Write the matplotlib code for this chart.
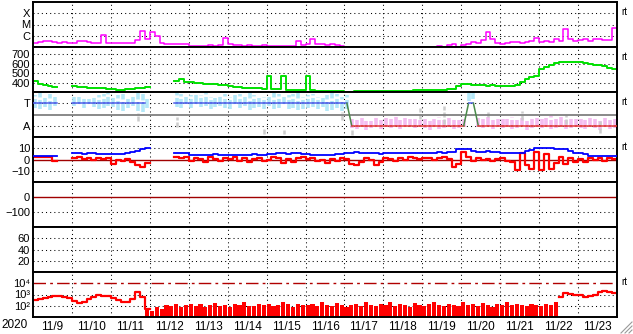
import numpy as np
import matplotlib
matplotlib.use("Agg")
import matplotlib.pyplot as plt
from matplotlib.lines import Line2D

plt.rcParams['font.family'] = ['Liberation Sans', 'DejaVu Sans']

nan = np.nan
BIN = 0.125  # 3-hour bins, x axis in days from 2020-11-09 00:00

day_labels = ["11/9", "11/10", "11/11", "11/12", "11/13", "11/14", "11/15", "11/16",
              "11/17", "11/18", "11/19", "11/20", "11/21", "11/22", "11/23"]
year_label = "2020"

# X-ray flux, log10 W/m^2 (3-hour bins)
xray_log = [
    -6.6, -6.55, -6.5, -6.5, -6.55, -6.6, -6.55, -6.6,
    -6.6, -6.5, -6.5, -6.55, -6.6, -6.65, -5.9, -6.6,
    -6.65, -6.6, -6.6, -6.65, -6.6, -6.4, -5.6, -6.3,
    -5.7, -6.0, -6.6, -6.7, -6.7, -6.75, -6.7, -6.75,
    -6.9, -6.9, -6.9, -6.9, -6.85, -6.9, -6.85, -6.17,
    -6.75, -6.8, -6.85, -6.9, -6.85, -6.9, -6.9, -6.85,
    -6.9, -6.9, -6.95, -6.9, -6.9, -6.9, -6.45, -6.8,
    -6.7, -6.3, -6.75, -6.7, -6.8, -6.75, -6.85, -6.9,
    -7.2, -7.2, -7.2, -7.2, -7.2, -7.2, -7.2, -7.2,
    -7.2, -7.2, -7.2, -7.2, -7.2, -7.2, -7.2, -7.2,
    -7.2, -7.2, -7.2, -6.9, -7.2, -6.8, -6.75, -7.0,
    -6.8, -6.75, -6.55, -6.6, -6.35, -5.7, -6.3, -6.6,
    -6.7, -6.6, -6.55, -6.55, -6.6, -6.55, -6.5, -6.2,
    -6.55, -6.5, -6.55, -6.3, -6.5, -5.4, -6.25, -6.5,
    -6.4, -6.3, -6.45, -6.25, -6.3, -6.35, -6.4, -5.3,
]

# Solar wind speed, km/s
speed = [
    420, 380, 370, 360, 355, nan, nan, nan,
    365, 350, 350, 345, 345, 340, 345, 335,
    330, 325, 325, 330, 335, 340, 345, 350,
    nan, nan, nan, nan, nan, 420, 435, 410,
    405, 400, 395, 390, 385, 380, 375, 370,
    360, 355, 350, 345, 345, 340, 340, 335,
    470, 330, 330, 470, 325, 325, 320, 320,
    475, 320, 315, 312, 310, 310, 308, 308,
    305, 305, 310, 312, 312, 310, 310, 308,
    308, 310, 310, 312, 315, 315, 318, 318,
    320, 322, 325, 325, 325, 328, 335, 365,
    380, 385, 375, 370, 370, 365, 370, 365,
    360, 362, 365, 375, 410, 435, 455, 475,
    545, 570, 590, 610, 620, 625, 620, 615,
    615, 605, 600, 590, 585, 575, 560, 545,
]

# IMF sector: 3 = Toward, 1 = Away
sector = [
    3, 3, 3, 3, 3, nan, nan, nan,
    3, 3, 3, 3, 3, 3, 3, 3,
    3, 3, 3, 3, 3, 3, 3, nan,
    nan, nan, nan, nan, nan, 3, 3, 3,
    3, 3, 3, 3, 3, 3, 3, 3,
    3, 3, 3, 3, 3, 3, 3, 3,
    3, 3, 3, 3, 3, 3, 3, 3,
    3, 3, 3, 3, 3, 3, 3, 3,
    3, 1, 1, 1, 1, 1, 1, 1,
    1, 1, 1, 1, 1, 1, 1, 1,
    1, 1, 1, 1, 1, 1, 1, 1,
    1, 3, 3, 1, 1, 1, 1, 1,
    1, 1, 1, 1, 1, 1, 1, 1,
    1, 1, 1, 1, 1, 1, 1, 1,
    1, 1, 1, 1, 1, 1, 1, 1,
]

# IMF angle scatter extent per bin (panel units)
phi_hi = [
    3.7, 3.9, 3.6, 3.8, 3.6, nan, nan, nan,
    3.7, 3.6, 3.5, 3.4, 3.6, 3.7, 3.8, 3.9,
    3.6, 3.7, 3.8, 3.5, 3.7, 3.9, 3.8, 3.6,
    nan, nan, nan, nan, nan, 3.9, 3.8, 3.6,
    3.7, 3.8, 3.7, 3.9, 3.6, 3.5, 3.7, 3.8,
    3.6, 3.7, 3.8, 3.6, 3.9, 3.7, 3.5, 3.6,
    3.7, 3.9, 3.8, 3.6, 3.7, 3.8, 3.9, 3.6,
    3.7, 3.8, 3.6, 3.5, 3.7, 3.9, 3.8, 3.6,
    3.7, 1.6, 1.5, 1.7, 1.6, 1.4, 1.8, 1.5,
    1.7, 1.6, 1.9, 1.5, 1.7, 1.6, 1.8, 1.5,
    1.7, 1.5, 1.6, 1.8, 1.5, 1.7, 1.6, 1.5,
    1.6, 3.9, 3.9, 1.7, 1.6, 1.8, 1.7, 1.6,
    1.7, 1.6, 1.8, 1.5, 1.7, 1.6, 1.8, 1.7,
    1.6, 1.7, 1.9, 1.6, 1.8, 1.5, 1.7, 1.6,
    1.8, 1.6, 1.7, 1.8, 1.6, 1.7, 1.5, 1.6,
]
phi_lo = [
    2.6, 2.5, 2.7, 2.4, 2.8, nan, nan, nan,
    2.8, 2.9, 2.6, 2.9, 2.7, 2.5, 2.6, 2.8,
    2.7, 2.4, 2.3, 2.6, 2.8, 2.3, 2.2, 2.6,
    nan, nan, nan, nan, nan, 2.7, 2.6, 2.9,
    2.6, 2.9, 2.7, 2.8, 2.5, 2.7, 2.8, 2.6,
    2.5, 2.9, 2.6, 2.8, 2.4, 2.6, 2.7, 2.5,
    2.8, 2.5, 2.6, 2.9, 2.5, 2.6, 2.4, 2.5,
    2.6, 2.7, 2.5, 2.7, 2.3, 2.4, 2.6, 2.3,
    2.5, 0.8, 0.7, 0.9, 0.6, 0.8, 0.9, 0.7,
    0.9, 0.8, 1.0, 0.7, 0.9, 1.0, 0.8, 0.9,
    0.8, 0.6, 0.9, 0.7, 0.8, 1.0, 0.7, 0.8,
    0.9, 3.2, 3.4, 0.9, 0.8, 1.0, 0.7, 0.9,
    0.8, 0.9, 0.7, 0.8, 1.0, 0.6, 0.8, 0.9,
    0.8, 0.9, 0.7, 0.8, 1.0, 0.7, 0.8, 0.9,
    0.8, 0.7, 0.9, 0.8, 0.6, 0.9, 0.7, 0.8,
]
# sparse grey (undetermined) points: bin index, top, bottom
grey_bins = [21, 29, 47, 51, 63, 65, 79, 84, 93, 100, 109, 116]
grey_hi = [2.1, 1.8, 0.8, 0.6, 2.2, 0.8, 2.6, 2.8, 2.3, 2.3, 2.0, 1.5]
grey_lo = [1.4, 0.9, 0.3, 0.3, 1.5, 0.2, 1.6, 1.2, 1.8, 1.5, 1.2, 0.4]

# IMF magnitude Bt and Bz, nT
bt = [
    3.5, 3.5, 3.2, 3.3, 3.5, nan, nan, nan,
    5.5, 5.5, 5.3, 5.5, 5.5, 5.3, 5.2, 5.0,
    4.8, 4.6, 4.6, 5.5, 7.0, 7.5, 9.0, 10.0,
    nan, nan, nan, nan, nan, 6.0, 6.0, 5.5,
    4.2, 4.0, 4.0, 4.2, 4.0, 4.5, 4.0, 4.0,
    4.2, 4.0, 4.3, 4.0, 4.2, 4.5, 4.0, 4.2,
    4.5, 5.0, 5.5, 5.5, 5.3, 5.5, 5.5, 5.0,
    4.5, 4.2, 4.0, 4.0, 4.2, 4.0, 4.5, 5.0,
    5.5, 6.0, 6.5, 6.2, 5.8, 5.5, 5.5, 5.3,
    5.5, 5.5, 6.0, 5.8, 5.5, 5.5, 5.8, 6.0,
    6.0, 6.0, 6.0, 6.5, 6.0, 6.5, 7.0, 9.0,
    9.5, 9.0, 8.0, 7.0, 7.0, 7.2, 7.0, 6.5,
    5.5, 5.5, 5.5, 5.8, 6.0, 7.5, 8.5, 10.5,
    10.5, 10.0, 10.0, 9.5, 9.0, 9.0, 7.5, 6.0,
    5.5, 4.5, 3.5, 3.0, 3.0, 3.0, 2.8, 3.0,
]
bz = [
    2.5, 2.0, 2.5, 2.0, -1.0, nan, nan, nan,
    1.5, 2.0, 0.5, 1.0, 0.0, 1.5, 0.5, 1.0,
    -4.0, 0.0, -1.0, 0.5, -2.0, -5.0, -6.5, -3.0,
    nan, nan, nan, nan, nan, 2.0, 1.0, 2.5,
    -1.0, 1.5, 0.5, -2.0, 2.0, 0.5, -1.5, 1.0,
    0.5, 2.0, -1.0, 1.5, -2.5, 0.5, 1.5, -1.0,
    0.0, 2.5, 1.0, -3.0, 0.5, -2.0, 1.5, 2.5,
    0.5, 1.0, -1.5, 0.0, -3.5, 0.5, -1.0, 1.5,
    0.5, -4.0, -5.0, -2.0, 1.0, 0.0, -5.0, -2.0,
    1.0, 0.5, -1.0, 1.5, 0.0, 2.0, 1.0, 0.5,
    1.0, 1.5, 0.0, 1.0, 2.0, 0.5, -6.5, -4.0,
    7.0, 2.0, -1.0, 1.0, 0.0, 0.5, -1.0, 0.5,
    1.0, -1.0, -2.0, -9.0, 6.0, -5.0, -8.0, 7.0,
    -9.0, 5.0, -8.0, -3.0, 2.0, -4.0, 1.0, -2.0,
    0.5, -2.0, 1.5, 0.0, 1.5, -1.0, 1.0, 0.5,
]

# >2 MeV electron flux, log10 (continuous part / noisy low-level part)
flux_line = [
    2.55, 2.6, 2.7, 2.8, 2.9, 2.85, 2.8, 2.65,
    2.4, 2.25, 2.35, 2.6, 2.8, 2.95, 2.9, 2.85,
    2.7, 2.5, 2.35, 2.3, 2.6, 3.2, 2.8, 1.7,
] + [nan] * 84 + [
    2.8, 3.1, 3.05, 3.0,
    2.95, 2.8, 2.85, 2.95, 3.2, 3.35, 3.25, 3.1,
]
flux_noisy = [nan] * 23 + [
    1.6,
    1.5, 1.9, 1.7, 2.1, 2.0, 2.2, 1.9, 2.1,
    2.2, 2.0, 2.15, 1.9, 2.1, 2.25, 2.0, 2.1,
    1.9, 2.2, 2.1, 2.3, 2.0, 1.95, 2.2, 2.1,
    2.2, 2.0, 2.1, 2.3, 2.15, 1.9, 2.2, 2.05,
    2.1, 2.2, 1.95, 2.3, 2.1, 2.0, 2.25, 2.1,
    1.9, 2.1, 2.2, 2.0, 2.3, 2.1, 1.95, 2.2,
    2.1, 2.3, 2.0, 2.2, 2.1, 1.9, 2.25, 2.1,
    2.0, 2.2, 2.3, 2.1, 1.95, 2.2, 2.1, 2.0,
    2.3, 2.1, 2.2, 2.0, 2.25, 2.1, 1.9, 2.2,
    2.1, 2.3, 2.05, 2.2, 2.1, 1.95, 2.2, 2.1,
    2.0, 2.2, 2.1, 2.3,
] + [nan] * 12
flux_ticks = [1e4, 1e3, 1e2]
flux_ticklabels = ["10\u2074", "10\u00b3", "10\u00b2"]

# ---------------------------------------------------------------------------
W, Hfig = 633, 334
LAB = 8
fig = plt.figure(figsize=(W / 100, Hfig / 100), dpi=100)
left_px, right_px, top_px, panel_h = 33, 617, 2, 45
axes = []
for k in range(7):
    y0 = top_px + k * panel_h
    ax = fig.add_axes([left_px / W, 1 - (y0 + panel_h) / Hfig,
                       (right_px - left_px) / W, panel_h / Hfig])
    ax.set_xlim(0, 15)
    for s in ax.spines.values():
        s.set_linewidth(1.4)
        s.set_color('black')
    ax.tick_params(axis='both', length=0, labelsize=LAB, pad=2)
    ax.set_xticks([])
    for d in range(1, 15):
        ax.axvline(d, color='black', lw=0.75, ls=(0, (1, 3)), zorder=0.5)
    axes.append(ax)

n = len(speed)
x_edges = np.arange(n + 1) * BIN
x_cent = (np.arange(n) + 0.5) * BIN


def hgrid(ax, vals):
    for v in vals:
        ax.axhline(v, color='black', lw=0.75, ls=(0, (1, 3)), zorder=0.5)


def step(ax, vals, **kw):
    v = np.asarray(vals, dtype=float)
    ax.plot(x_edges, np.append(v, v[-1]), drawstyle='steps-post', **kw)


# 1: X-ray
ax = axes[0]
ax.set_yscale('log')
ax.set_ylim(1e-7, 1e-3)
ax.set_yticks([1e-4, 1e-5, 1e-6])
ax.set_yticklabels(['X', 'M', 'C'])
ax.minorticks_off()
hgrid(ax, [1e-4, 1e-5, 1e-6])
step(ax, 10 ** np.asarray(xray_log), color='#ff00ff', lw=1.1)

# 2: speed
ax = axes[1]
ax.set_ylim(300, 780)
ax.set_yticks([700, 600, 500, 400])
hgrid(ax, [700, 600, 500, 400])
step(ax, speed, color='#00e000', lw=1.4)

# 3: sector
ax = axes[2]
ax.set_ylim(0, 4)
ax.set_yticks([3, 1])
ax.set_yticklabels(['T', 'A'])
hgrid(ax, [3, 1])
ph = np.asarray(phi_hi, dtype=float)
pl = np.asarray(phi_lo, dtype=float)
cols = ['#b4e8f8' if (h + l) / 2 > 2 else '#f4bcf0' for h, l in zip(ph, pl)]
ok = ~np.isnan(ph)
ax.vlines(x_cent[ok], pl[ok], ph[ok], colors=np.array(cols)[ok], lw=2.6,
          linestyles=[(0, (2.5, 0.7))], zorder=1)
ax.vlines(x_cent[grey_bins], grey_lo, grey_hi, colors='#cccccc', lw=1.8,
          linestyles=[(0, (2.0, 0.8))], zorder=1)
ax.axhline(2, color='#808080', lw=1.3, zorder=2)
sec = np.asarray(sector, dtype=float)
scol = {3: '#5060e8', 1: '#e03a3a'}
for i in range(n):
    if np.isnan(sec[i]):
        continue
    c = scol[int(sec[i])]
    if i == 0 or np.isnan(sec[i - 1]):
        ax.plot([i * BIN, (i + 0.5) * BIN], [sec[i]] * 2, color=c, lw=1.1, zorder=3)
    if i == n - 1 or np.isnan(sec[i + 1]):
        ax.plot([(i + 0.5) * BIN, (i + 1) * BIN], [sec[i]] * 2, color=c, lw=1.1, zorder=3)
    if i < n - 1 and not np.isnan(sec[i + 1]):
        cc = c if sec[i + 1] == sec[i] else '#4a8a4a'
        ax.plot([(i + 0.5) * BIN, (i + 1.5) * BIN], [sec[i], sec[i + 1]],
                color=cc, lw=1.1, zorder=3)

# 4: Bt / Bz
ax = axes[3]
ax.set_ylim(-20, 20)
ax.set_yticks([10, 0, -10])
hgrid(ax, [10, -10])
ax.axhline(0, color='#a00000', lw=1.0, zorder=1)
step(ax, bt, color='#0000ff', lw=1.3, zorder=3)
step(ax, bz, color='#ff0000', lw=1.6, zorder=2)

# 5: Dst (empty)
ax = axes[4]
ax.set_ylim(-200, 100)
ax.set_yticks([0, -100])
hgrid(ax, [-100])
ax.axhline(0, color='#a00000', lw=1.0)

# 6: empty panel 0-80
ax = axes[5]
ax.set_ylim(0, 80)
ax.set_yticks([60, 40, 20])
hgrid(ax, [60, 40, 20])

# 7: electron flux
ax = axes[6]
ax.set_yscale('log')
ax.set_ylim(10, 1e5)
ax.set_yticks(flux_ticks)
ax.set_yticklabels(flux_ticklabels, fontsize=LAB)
ax.minorticks_off()
hgrid(ax, [1e3, 1e2])
ax.axhline(1e4, color='#b00000', lw=1.0, ls=(0, (9, 3, 2, 3)))
step(ax, 10 ** np.asarray(flux_line), color='#ff0000', lw=1.6)
fn = 10 ** np.asarray(flux_noisy, dtype=float)
okn = ~np.isnan(fn)
ax.bar(x_edges[:-1][okn], fn[okn] - 10, bottom=10, width=BIN * 0.85,
       align='edge', color='#ff0000', lw=0)
ax.set_xticks(np.arange(15) + 0.5)
ax.set_xticklabels(day_labels)
ax.tick_params(axis='x', labelsize=LAB + 0.5, pad=3)
fig.text(15 / W, 1 - 325 / Hfig, year_label, ha='center', va='center', fontsize=LAB + 0.5)

# right-hand "rt" marks
for k in [0, 1, 2, 3, 6]:
    axes[k].text(1.008, 0.78, 'rt', transform=axes[k].transAxes,
                 fontsize=7, ha='left', va='center')

# resize grip in the lower right corner
for off in [4, 8, 12]:
    fig.add_artist(Line2D([(W - off) / W, (W - 1) / W], [1 / Hfig, (off) / Hfig],
                          transform=fig.transFigure, color='#999999', lw=0.8))

fig.savefig('out.png', dpi=100)
